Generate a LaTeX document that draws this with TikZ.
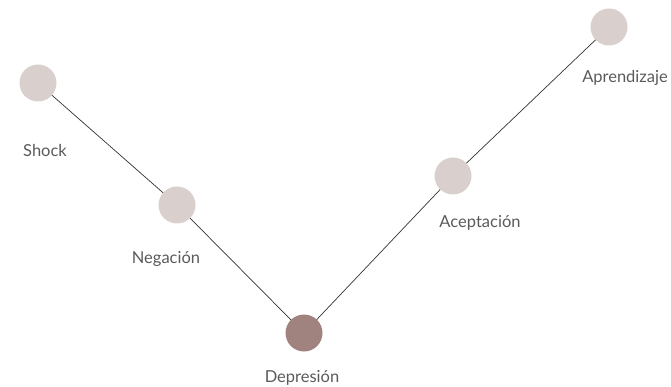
\documentclass[tikz,border=0pt]{standalone}
\usepackage{fontspec}
\setmainfont{Lato}
\usepackage{xcolor}
\usetikzlibrary{backgrounds}
\definecolor{stagelight}{HTML}{D9CFCD}
\definecolor{stagedark}{HTML}{A0827E}
\definecolor{labelgray}{HTML}{5A5A5A}
\tikzset{stage/.style={circle, minimum size=37pt, inner sep=0pt, fill=stagelight},
  stagelabel/.style={anchor=base, text=labelgray, font=\fontsize{16.5}{19}\selectfont}}

\begin{document}
\begin{tikzpicture}[x=1pt, y=-1pt]
\useasboundingbox (0,0) rectangle (671,387);
% stages
\node[stage] (shock) at (38,83) {};
\node[stage] (neg) at (177,205) {};
\node[stage, fill=stagedark] (dep) at (304,333) {};
\node[stage] (acep) at (453,176) {};
\node[stage] (apr) at (609,27) {};
% curve
\begin{scope}[on background layer]
\draw[line width=0.7pt, black!80] (shock.center) -- (neg.center) -- (dep.center) -- (acep.center) -- (apr.center);
\end{scope}
% labels
\node[stagelabel] (shocklbl) at (45,157) {Shock};
\node[stagelabel] (neglbl) at (166,263) {Negación};
\node[stagelabel] (deplbl) at (302,382) {Depresión};
\node[stagelabel] (aceplbl) at (480,227) {Aceptación};
\node[stagelabel] (aprlbl) at (625,83) {Aprendizaje};
\end{tikzpicture}
\end{document}
